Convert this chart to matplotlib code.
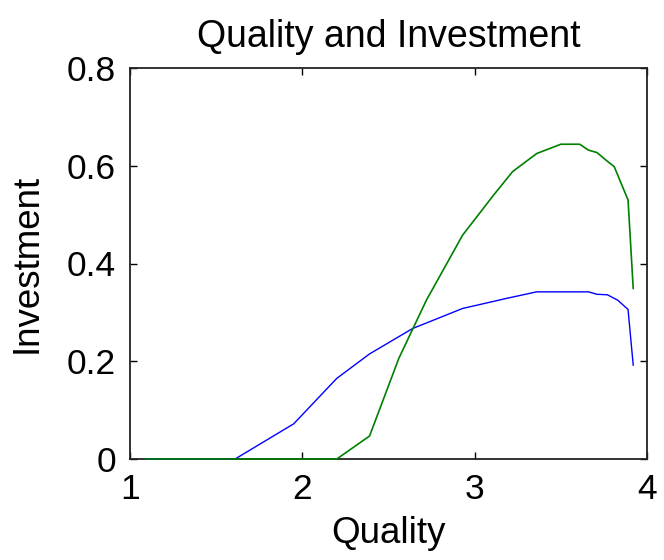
import matplotlib
matplotlib.use("Agg")
import matplotlib.pyplot as plt

# values
quality_low = [1.09, 1.61, 1.95, 2.20, 2.39, 2.64, 2.93, 3.19, 3.36, 3.66, 3.71, 3.77, 3.83, 3.89, 3.92]
invest_low = [0.0, 0.0, 0.072, 0.165, 0.215, 0.267, 0.308, 0.329, 0.342, 0.342, 0.337, 0.336, 0.325, 0.306, 0.192]

quality_high = [1.09, 2.20, 2.39, 2.56, 2.72, 2.93, 3.11, 3.22, 3.36, 3.50, 3.61, 3.66, 3.71, 3.76, 3.81, 3.85, 3.89, 3.92]
invest_high = [0.0, 0.0, 0.047, 0.206, 0.325, 0.458, 0.540, 0.588, 0.625, 0.644, 0.644, 0.632, 0.627, 0.612, 0.598, 0.564, 0.530, 0.349]

x_ticks = [1, 2, 3, 4]
y_ticks = [0, 0.2, 0.4, 0.6, 0.8]
y_tick_labels = ["0", "0.2", "0.4", "0.6", "0.8"]

plt.rcParams['font.family'] = ['Liberation Sans', 'DejaVu Sans']

fig = plt.figure(figsize=(6.64, 5.6), dpi=100)
ax = fig.add_axes([130/664, 1-459/560, 517/664, 391/560])

ax.plot(quality_low, invest_low, color='#0000ff', lw=1.0, clip_on=False, zorder=3)
ax.plot(quality_high, invest_high, color='#008000', lw=1.2, clip_on=False, zorder=4)

ax.set_xlim(1, 4)
ax.set_ylim(0, 0.8)
ax.set_xticks(x_ticks)
ax.set_yticks(y_ticks)
ax.set_yticklabels(y_tick_labels)
ax.tick_params(direction='in', top=True, right=True, length=5, width=1,
               labelsize=25.5, pad=10)
for s in ax.spines.values():
    s.set_linewidth(1.3)
    s.set_color('#222222')

ax.set_title("Quality and Investment", fontsize=27, pad=15)
ax.set_xlabel("Quality", fontsize=26.5, labelpad=7)
ax.set_ylabel("Investment", fontsize=26.5, labelpad=16)

fig.savefig("out.png", dpi=100)
